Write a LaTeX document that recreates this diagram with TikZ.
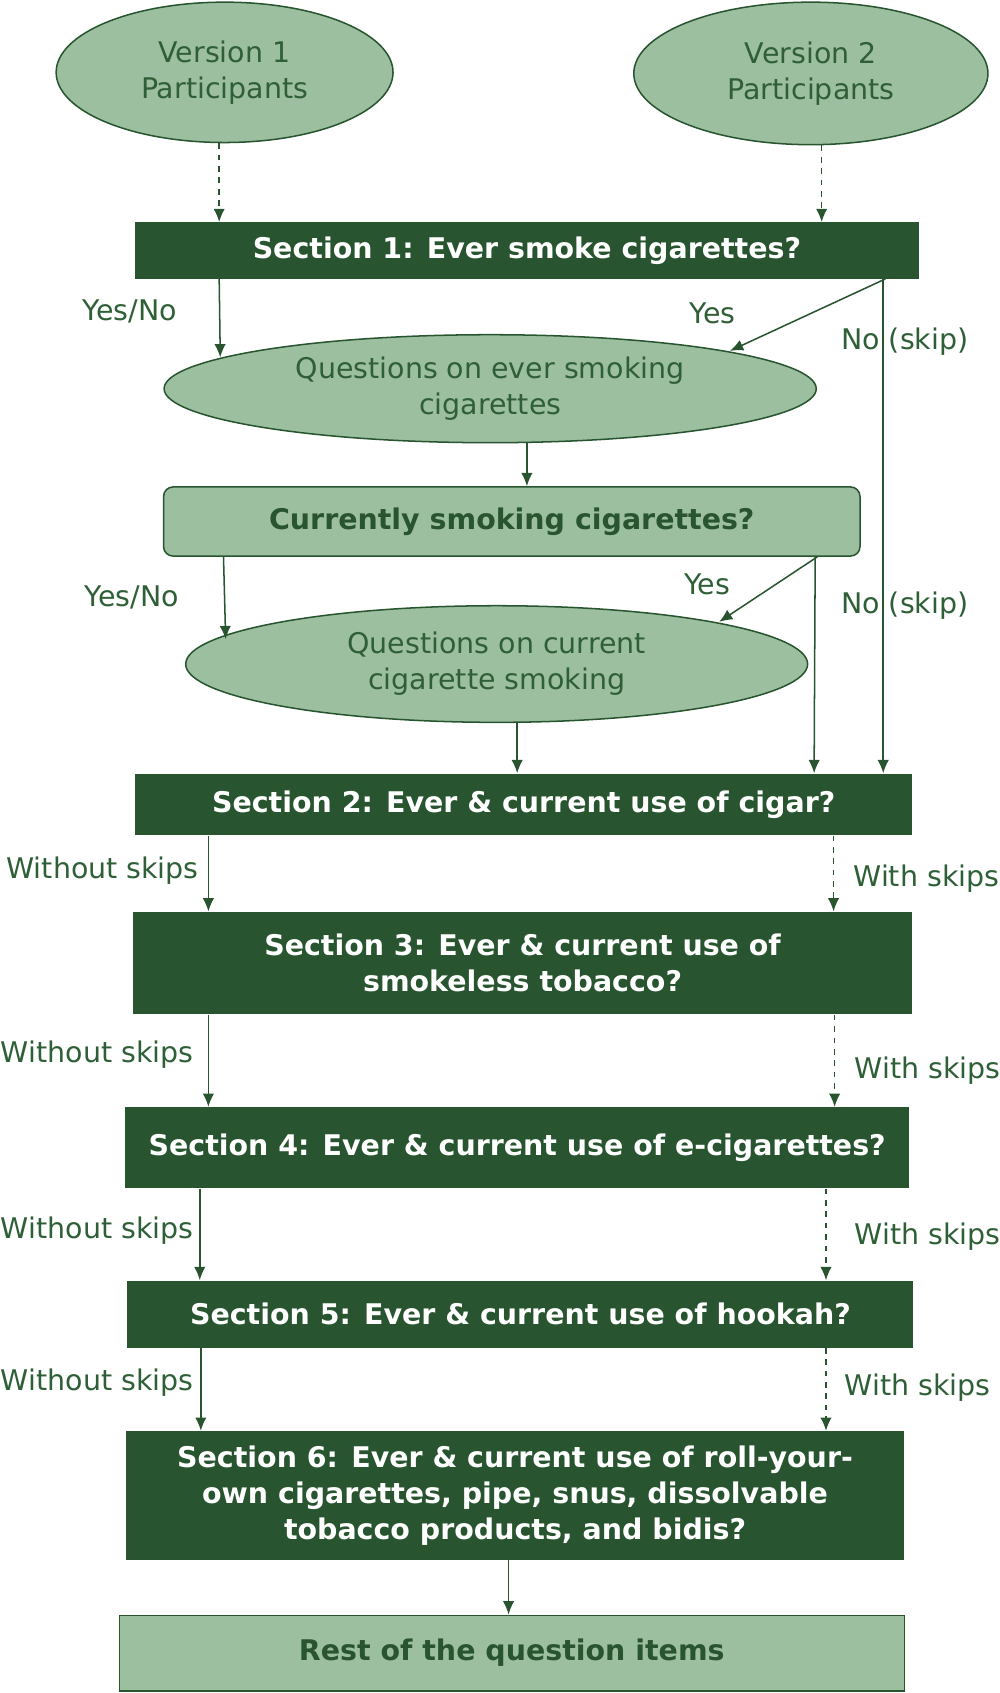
\documentclass[tikz,border=0pt]{standalone}
\usepackage{fontspec}
\setmainfont{DejaVu Sans}
\usetikzlibrary{shapes.geometric,arrows.meta,calc}
\definecolor{dkgreen}{HTML}{285530}
\definecolor{ltgreen}{HTML}{9CBFA0}
\definecolor{txtgreen}{HTML}{2F5F36}
\newcommand\un{0.02cm}
\tikzset{
  oval/.style={ellipse, draw=dkgreen, line width=0.8pt, fill=ltgreen, text=txtgreen, inner sep=0pt, align=center, font=\fontsize{15}{19}\selectfont},
  section/.style={rectangle, fill=dkgreen, text=white, inner sep=0pt, align=center, font=\fontsize{15}{19}\selectfont\bfseries},
  lightbox/.style={rectangle, draw=dkgreen, line width=0.8pt, fill=ltgreen, text=dkgreen, inner sep=0pt, align=center, font=\fontsize{15}{19}\selectfont\bfseries},
  arr/.style={-{Latex[length=7pt,width=6pt]}, draw=dkgreen, line width=0.8pt},
  lbl/.style={text=txtgreen, font=\fontsize{15}{19}\selectfont}
}
\begin{document}
\begin{tikzpicture}[x=0.02cm, y=-0.02cm]
  \useasboundingbox (0,0) rectangle (926,1568);
  % top
  \node[oval, minimum width=312*\un, minimum height=130*\un] (v1) at (208,67) {Version 1\\Participants};
  \node[oval, minimum width=328*\un, minimum height=132*\un] (v2) at (751,68) {Version 2\\Participants};
  \node[section, minimum width=726*\un, minimum height=52*\un] (s1) at (488,232) {Section 1: Ever smoke cigarettes?};
  \node[oval, minimum width=604*\un, minimum height=100*\un] (q1) at (454,360) {Questions on ever smoking\\cigarettes};
  \node[lightbox, rounded corners=5pt, minimum width=645*\un, minimum height=64*\un] (cur) at (474,483) {Currently smoking cigarettes?};
  \node[oval, minimum width=576*\un, minimum height=108*\un] (q2) at (460,615) {Questions on current\\cigarette smoking};
  \node[section, minimum width=720*\un, minimum height=57*\un] (s2) at (485,745) {Section 2: Ever \& current use of cigar?};
  \node[section, minimum width=721*\un, minimum height=95*\un] (s3) at (484,892) {Section 3: Ever \& current use of\\smokeless tobacco?};
  \node[section, minimum width=726*\un, minimum height=75*\un] (s4) at (479,1063) {Section 4: Ever \& current use of e-cigarettes?};
  \node[section, minimum width=728*\un, minimum height=62*\un] (s5) at (482,1217) {Section 5: Ever \& current use of hookah?};
  \node[section, minimum width=721*\un, minimum height=119*\un] (s6) at (477,1385) {Section 6: Ever \& current use of roll-your-\\own cigarettes, pipe, snus, dissolvable\\tobacco products, and bidis?};
  \node[lightbox, minimum width=727*\un, minimum height=70*\un] (rest) at (474,1531) {Rest of the question items};
  % connectors
  \draw[arr, dashed] (v1.south -| 203,0) -- (s1.north -| 203,0);
  \draw[arr, dashed] (v2.south -| 761,0) -- (s1.north -| 761,0);
  \draw[arr] (s1.south -| 203,0) -- (204,331);
  \draw[arr] (s1.south -| 820,0) -- (676,325);
  \draw[arr] (s1.south -| 818,0) -- (s2.north -| 818,0);
  \draw[arr] (q1.south -| 488,0) -- (cur.north -| 488,0);
  \draw[arr] (cur.south -| 207,0) -- (209,592);
  \draw[arr] (cur.south -| 757,0) -- (666,576);
  \draw[arr] (cur.south -| 755,0) -- (s2.north -| 754,0);
  \draw[arr] (q2.south -| 479,0) -- (s2.north -| 479,0);
  \draw[arr] (s2.south -| 193,0) -- (s3.north -| 193,0);
  \draw[arr, dashed] (s2.south -| 772,0) -- (s3.north -| 772,0);
  \draw[arr] (s3.south -| 193,0) -- (s4.north -| 193,0);
  \draw[arr, dashed] (s3.south -| 773,0) -- (s4.north -| 773,0);
  \draw[arr] (s4.south -| 185,0) -- (s5.north -| 185,0);
  \draw[arr, dashed] (s4.south -| 765,0) -- (s5.north -| 765,0);
  \draw[arr] (s5.south -| 186,0) -- (s6.north -| 186,0);
  \draw[arr, dashed] (s5.south -| 765,0) -- (s6.north -| 765,0);
  \draw[arr] (s6.south -| 471,0) -- (rest.north -| 471,0);
  % labels
  \node[lbl] (l1) at (120,288) {Yes/No};
  \node[lbl] (l2) at (660,290) {Yes};
  \node[lbl] (l3) at (838,316) {No (skip)};
  \node[lbl] (l4) at (122,553) {Yes/No};
  \node[lbl] (l5) at (655,541) {Yes};
  \node[lbl] (l6) at (838,561) {No (skip)};
  \node[lbl] (l7) at (95,806) {Without skips};
  \node[lbl] (l8) at (858,814) {With skips};
  \node[lbl] (l9) at (90,977) {Without skips};
  \node[lbl] (l10) at (859,992) {With skips};
  \node[lbl] (l11) at (90,1140) {Without skips};
  \node[lbl] (l12) at (859,1145) {With skips};
  \node[lbl] (l13) at (90,1281) {Without skips};
  \node[lbl] (l14) at (850,1285) {With skips};
\end{tikzpicture}
\end{document}
